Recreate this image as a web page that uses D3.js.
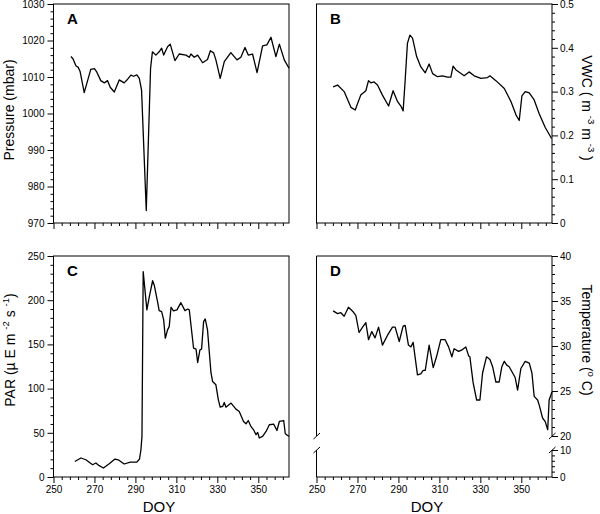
<!DOCTYPE html>
<html><head><meta charset="utf-8">
<script src="https://cdn.jsdelivr.net/npm/d3@7"></script>
<style>
body{margin:0;background:#fff}
svg{display:block}
text{font-family:"Liberation Sans",Arial,Helvetica,sans-serif;fill:#000}
</style>
</head><body>
<svg id="chart" width="600" height="514"></svg>
<script>
// ---------- data ----------
const doyMajor = [250, 270, 290, 310, 330, 350];
const doyMinor = [254,258,262,266,274,278,282,286,294,298,302,306,314,318,322,326,334,338,342,346,354,358,362];

const doyA = [258.5,259.5,261,262,263,265,268.2,270,271,273.1,274.8,276.4,277.7,279.7,282.1,284.5,286.2,287.8,289.1,290.7,291.9,293,295.3,297.4,298.3,300,301.6,302.8,303.8,305.7,307,309.3,311.4,314.7,316.3,317.1,318.7,320.4,322.8,325.2,326.6,328.2,329.3,331.4,333.4,336.6,339.6,341.5,343.5,345.1,347.2,349.4,352.1,354.2,356.2,358.6,360.3,362.7,365];
const pressure = [1015.6,1015,1013,1012.7,1011.5,1005.7,1012.1,1012.3,1011.5,1009,1008.4,1009,1007.2,1005.9,1009.2,1008.4,1009.4,1010.5,1010.2,1010.6,1009.6,1006.4,973.4,1012.4,1016.9,1016,1016.9,1017.9,1016,1018.3,1019,1014.5,1016.3,1016,1015.4,1016.3,1015.4,1016,1013.9,1014.8,1017.2,1016.6,1014.7,1009.6,1014.2,1016.7,1014.7,1015.4,1018.1,1016,1016.3,1011.2,1018.5,1018.8,1020.9,1015.6,1019,1014.7,1012.4];
const pressureMajor = [970,980,990,1000,1010,1020,1030];

const doyB = [258.1,260.3,263.5,266.8,268.9,271.6,274.1,275.4,276.5,278.1,279.8,282.2,285.2,287.4,289.6,291.2,292.3,293.3,294.4,295.6,296.9,298.9,300.9,303.1,305,306.7,309.1,311.5,314,315.6,316.7,318,322.1,324.5,327,330.3,333.5,334.7,337.6,341.7,345,347.4,349,350.3,351.9,353.9,356.3,358.7,361.7,364.8];
const vwc = [0.311,0.315,0.300,0.264,0.258,0.292,0.302,0.325,0.320,0.322,0.315,0.292,0.267,0.302,0.277,0.267,0.256,0.326,0.410,0.429,0.422,0.380,0.357,0.343,0.363,0.341,0.334,0.336,0.333,0.333,0.358,0.350,0.336,0.345,0.336,0.330,0.332,0.336,0.325,0.307,0.277,0.247,0.234,0.290,0.300,0.297,0.281,0.250,0.218,0.193];
const vwcMajor = [0,0.1,0.2,0.3,0.4,0.5];

const doyC = [260.4,263.4,265.8,269.1,270.7,272.3,274.4,277.2,280,281.6,284.5,287.5,290.7,292,292.7,293.2,293.8,295.6,296.8,298.4,299.2,300.8,301.6,302.8,303.8,304.6,305.7,306.5,307.4,308.6,310.3,312.2,314.2,315.5,316.3,318.4,319.6,320.4,321.5,322.3,323.3,324.1,325.2,326.9,327.7,329.3,330.5,331.4,332.6,333.4,334.2,336.7,339.1,340.7,342.8,344,345.1,346.4,347.7,348.9,349.7,350.5,352.1,353.8,355.4,357.5,359.1,360.3,362.4,363.2,365];
const par = [17.6,21.5,19.5,13.9,15.8,12.8,10.2,15,20.3,19.5,14.7,16.9,16.9,20.3,30.8,45.9,232.3,189,204,222,217,198.4,188.2,187,177.7,157,166.4,170.1,192,187.9,189,197.2,188.2,190,189,145.7,144.6,129.5,143.8,144.6,175.8,178.8,166.4,118,108,104.3,87.3,79,79.8,84.3,79,83.6,76.8,74.1,62.8,60.2,63.9,57.2,53.4,47.8,50.4,44.1,45.9,51.5,59.1,59.9,52.6,62.8,63.9,48.9,45.9];
const parMajor = [0,50,100,150,200,250];

const doyD = [258.1,260.3,261.9,263.5,265.6,267.9,269.2,270.8,272.5,274.1,275.4,277,278.6,280.3,282.2,284.7,287.1,288.4,290.4,292.3,293.3,294.9,296.1,297.2,299.3,300.9,302.1,303.1,305,307,308.6,310.7,312.8,314.5,316.1,317.2,319.4,321.3,322.9,324.3,324.9,326.5,328.2,329.8,331.1,333,334.7,336,337.6,339.2,340.5,341.7,342.8,344.1,345.8,347,348.2,349.8,351.9,353.9,355.2,356.3,358,358.8,360.4,361.7,362.9,363.6,365];
const temperature = [33.9,33.6,33.7,33.3,34.3,33.8,33.4,31.5,32.1,32.6,30.7,31.6,30.9,32.1,30.1,31.2,32.1,32.1,30.5,32.2,32.3,30.1,29.9,30.4,26.8,26.9,27.3,27.3,30.1,27.6,28.8,30.7,30.7,29.9,28.8,29.7,29.4,29.6,29.9,28.9,28.8,25.9,24.0,24.0,27.0,28.8,28.5,27.7,26.0,26.0,27.7,28.3,27.9,27.7,27.0,26.5,25.1,27.5,28.3,28.1,27.0,24.4,24.0,23.4,22.0,21.6,20.7,24.0,24.9];
const tempMajor = [0,10,20,25,30,35,40];

// ---------- drawing ----------
const svg = d3.select("#chart");
const FS_TICK = 10;

function minorsOf(majors, step, lo, hi) {
  const out = [];
  for (let v = lo; v <= hi + 1e-9; v += step) {
    const r = Math.round(v * 1000) / 1000;
    if (!majors.some(m => Math.abs(m - r) < 1e-6)) out.push(r);
  }
  return out;
}

function cleanAxis(g) {
  g.select(".domain").remove();
  g.selectAll("line").attr("stroke", "#000").attr("stroke-width", 1);
  g.selectAll("text").attr("font-size", FS_TICK).attr("font-family", '"Liberation Sans",Arial,Helvetica,sans-serif').attr("fill", "#000");
}

function drawPanel(p) {
  const x = d3.scaleLinear().domain([250, 365]).range([p.x0, p.x1]);
  const y = p.y;
  const g = svg.append("g");

  // bottom axis
  const bMaj = d3.axisBottom(x).tickValues(doyMajor).tickSize(6).tickPadding(3);
  const gb = g.append("g").attr("transform", `translate(0,${p.y1})`).call(bMaj).call(cleanAxis);
  if (!p.xLabels) gb.selectAll("text").remove();
  const bMin = d3.axisBottom(x).tickValues(doyMinor).tickSize(3);
  g.append("g").attr("transform", `translate(0,${p.y1})`).call(bMin).call(cleanAxis).selectAll("text").remove();

  // y axis
  const xa = p.side === "left" ? p.x0 : p.x1;
  const mk = p.side === "left" ? d3.axisLeft : d3.axisRight;
  g.append("g").attr("transform", `translate(${xa},0)`)
    .call(mk(y).tickValues(p.majors).tickSize(6).tickPadding(p.side === "left" ? 3 : 2).tickFormat(p.fmt))
    .call(cleanAxis);
  g.append("g").attr("transform", `translate(${xa},0)`)
    .call(mk(y).tickValues(p.minors).tickSize(3))
    .call(cleanAxis).selectAll("text").remove();

  // frame
  if (!p.broken) {
    g.append("rect").attr("x", p.x0).attr("y", p.y0).attr("width", p.x1 - p.x0).attr("height", p.y1 - p.y0)
      .attr("fill", "none").attr("stroke", "#000").attr("stroke-width", 1);
  } else {
    const bTop = y(20), bBot = y(10);
    const seg = (x1, y1, x2, y2) => g.append("line").attr("x1", x1).attr("y1", y1).attr("x2", x2).attr("y2", y2)
      .attr("stroke", "#000").attr("stroke-width", 1);
    seg(p.x0, p.y0, p.x1, p.y0);
    seg(p.x0, p.y1, p.x1, p.y1);
    [p.x0, p.x1].forEach(xx => {
      seg(xx, p.y0, xx, bTop);
      seg(xx, bBot, xx, p.y1);
      seg(xx - 3, bTop + 3, xx + 3.5, bTop - 3);
      seg(xx - 3, bBot + 3, xx + 3.5, bBot - 3);
    });
  }

  // data line
  const pts = p.doy.map((d, i) => [d, p.vals[i]]);
  g.append("path").datum(pts)
    .attr("d", d3.line().x(d => x(d[0])).y(d => y(d[1])))
    .attr("fill", "none").attr("stroke", "#000").attr("stroke-width", 1.3).attr("stroke-linejoin", "round");

  // panel letter
  g.append("text").attr("x", p.x0 + 13.5).attr("y", p.y0 + 20).attr("font-size", 15).attr("font-weight", "bold").text(p.letter);
}

const L0 = 53.5, L1 = 289, R0 = 316.5, R1 = 552;
const T0 = 4, T1 = 223, B0 = 256, B1 = 477;

drawPanel({
  letter: "A", x0: L0, x1: L1, y0: T0, y1: T1, side: "left", xLabels: false,
  y: d3.scaleLinear().domain([970, 1030]).range([T1, T0]),
  majors: pressureMajor, minors: minorsOf(pressureMajor, 2, 970, 1030), fmt: d3.format("d"),
  doy: doyA, vals: pressure
});
drawPanel({
  letter: "B", x0: R0, x1: R1, y0: T0, y1: T1, side: "right", xLabels: false,
  y: d3.scaleLinear().domain([0, 0.5]).range([T1, T0]),
  majors: vwcMajor, minors: minorsOf(vwcMajor, 0.02, 0, 0.5), fmt: d => d === 0 ? "0" : d3.format(".1f")(d),
  doy: doyB, vals: vwc
});
drawPanel({
  letter: "C", x0: L0, x1: L1, y0: B0, y1: B1, side: "left", xLabels: true,
  y: d3.scaleLinear().domain([0, 250]).range([B1, B0]),
  majors: parMajor, minors: minorsOf(parMajor, 10, 0, 250), fmt: d3.format("d"),
  doy: doyC, vals: par
});
drawPanel({
  letter: "D", x0: R0, x1: R1, y0: B0, y1: B1, side: "right", xLabels: true, broken: true,
  y: d3.scaleLinear().domain([0, 10, 20, 40]).range([B1, 450, 436, B0]),
  majors: tempMajor, minors: minorsOf(tempMajor, 2, 0, 10).concat(minorsOf(tempMajor, 1, 20, 40)), fmt: d3.format("d"),
  doy: doyD, vals: temperature
});

// axis titles
function title(x, y, rot, parts, fs) {
  const t = svg.append("text").attr("transform", `translate(${x},${y}) rotate(${rot})`)
    .attr("text-anchor", "middle").attr("dominant-baseline", "central").attr("font-size", fs);
  const off = fs * 0.33;
  let shifted = false;
  parts.forEach(pt => {
    if (typeof pt === "string") {
      const s = t.append("tspan").text(pt);
      if (shifted) { s.attr("dy", off); shifted = false; }
    } else {
      t.append("tspan").attr("font-size", fs * 0.68).attr("dy", -off).text(pt.sup);
      shifted = true;
    }
  });
}
title(9, 110, -90, ["Pressure (mbar)"], 14);
title(587, 108, 90, ["VWC ( m ", {sup: "-3"}, " m ", {sup: "-3"}, " )"], 14);
title(10, 350, -90, ["PAR (\u00B5 E m ", {sup: "-2"}, " s ", {sup: "-1"}, ")"], 14);
title(587, 340, 90, ["Temperature (", {sup: "o"}, " C)"], 14);

svg.append("text").attr("x", 159).attr("y", 512).attr("text-anchor", "middle").attr("font-size", 15).text("DOY");
svg.append("text").attr("x", 427).attr("y", 512).attr("text-anchor", "middle").attr("font-size", 15).text("DOY");
</script>
</body></html>
